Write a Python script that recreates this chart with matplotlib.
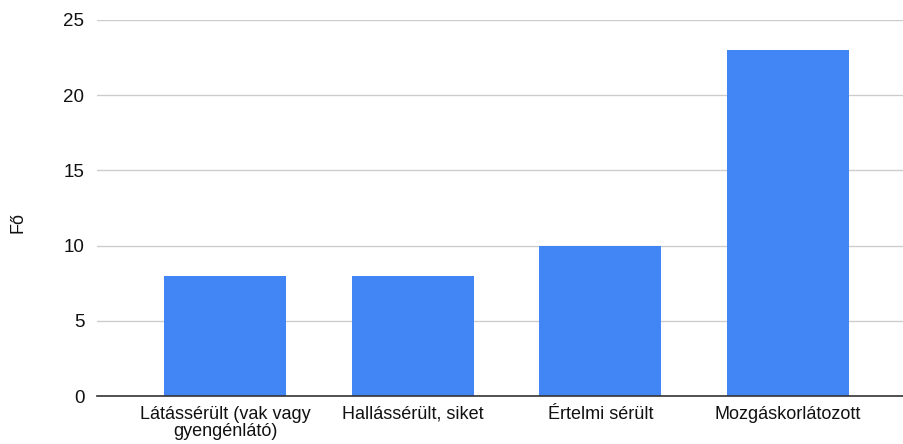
import matplotlib
matplotlib.use("Agg")
import matplotlib.pyplot as plt

categories = ["Látássérült (vak vagy\ngyengénlátó)", "Hallássérült, siket", "Értelmi sérült", "Mozgáskorlátozott"]
values = [8, 8, 10, 23]
yticks = [0, 5, 10, 15, 20, 25]

plt.rcParams['font.family'] = ['Liberation Sans', 'DejaVu Sans']

fig = plt.figure(figsize=(9.04, 4.44), dpi=100)
ax = fig.add_axes([97/904, 48/444, 806/904, 376/444])

x = list(range(len(categories)))
ax.bar(x, values, width=0.65, color="#4285F4", zorder=3)

ax.set_xlim(-0.682, 3.613)
ax.set_ylim(0, 25)
ax.set_yticks(yticks)
ax.set_yticklabels([str(t) for t in yticks], fontsize=13.5, color="#111111")
ax.set_xticks(x)
ax.set_xticklabels(categories, fontsize=13, color="#111111", linespacing=1.05)
ax.tick_params(axis='both', length=0)
ax.tick_params(axis='y', pad=9)
ax.tick_params(axis='x', pad=7)
ax.grid(axis='y', color="#cccccc", linewidth=1, zorder=0)
for s in ['top', 'right', 'left']:
    ax.spines[s].set_visible(False)
ax.spines['bottom'].set_color("#333333")
ax.spines['bottom'].set_linewidth(1.2)
ax.spines['bottom'].set_zorder(4)

fig.text(18/904, 1 - 222/444, "Fő", rotation=90, fontsize=13, color="#111111", ha='center', va='center')

fig.savefig("out.png", dpi=100)
